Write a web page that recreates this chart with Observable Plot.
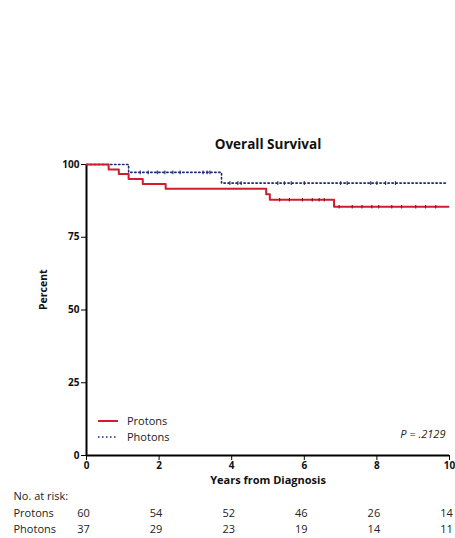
<!DOCTYPE html>
<html><head><meta charset="utf-8">
<script src="https://cdn.jsdelivr.net/npm/d3@7"></script>
<script src="https://cdn.jsdelivr.net/npm/@observablehq/plot@0.6"></script>
<style>
html,body{margin:0;padding:0;background:#fff;}
svg{font-family:"Open Sans",sans-serif;}
</style></head>
<body><div id="chart"></div>
<script>
// Kaplan–Meier steps (years, percent)
const protonTimes = [0, 0.61, 0.89, 1.16, 1.55, 2.18, 4.95, 5.05, 6.82, 9.97];
const protonSurv  = [100, 98.3, 96.7, 95.0, 93.3, 91.7, 89.8, 87.9, 85.5, 85.5];
const photonTimes = [0, 1.16, 3.72, 9.95];
const photonSurv  = [100, 97.3, 93.6, 93.6];
// censoring marks (years)
const protonCensor = [5.32, 5.59, 5.95, 6.22, 6.41, 6.55, 6.96, 7.32, 7.59, 7.86, 8.05, 8.41, 8.68, 9.07, 9.34, 9.62];
const photonCensor = [1.48, 1.70, 1.95, 2.16, 2.38, 2.58, 3.21, 3.32, 3.40, 3.95, 4.17, 4.26, 5.27, 5.45, 5.64, 6.0, 7.0, 7.18, 7.83, 8.0, 8.24, 8.51];
// numbers at risk
const riskYears = [0, 2, 4, 6, 8, 10];
const riskProtons = [60, 54, 52, 46, 26, 14];
const riskPhotons = [37, 29, 23, 19, 14, 11];
const xTicks = [0, 2, 4, 6, 8, 10];
const yTicks = [0, 25, 50, 75, 100];
const pValue = "P = .2129";

const red = "#d01c2c";
const navy = "#1e2a6e";

const protons = protonTimes.map((t, i) => ({t, s: protonSurv[i]}));
const photons = photonTimes.map((t, i) => ({t, s: photonSurv[i]}));
function survAt(times, surv, t) {
  let s = surv[0];
  for (let i = 0; i < times.length; i++) if (times[i] <= t) s = surv[i];
  return s;
}
const pc = protonCensor.map(t => ({t, s: survAt(protonTimes, protonSurv, t)}));
const hc = photonCensor.map(t => ({t, s: survAt(photonTimes, photonSurv, t)}));
const vtick = {draw(ctx, size) { const h = Math.sqrt(size) / 2; ctx.moveTo(0, -h); ctx.lineTo(0, h); }};
const riskP = riskYears.map((x, i) => ({x, v: riskProtons[i]}));
const riskH = riskYears.map((x, i) => ({x, v: riskPhotons[i]}));

function legend(index, scales, values, dims) {
  const g = d3.create("svg:g");
  const x0 = dims.marginLeft + 12, x1 = x0 + 20;
  const yb = dims.height - dims.marginBottom;
  const rows = [
    {label: "Protons", color: red, dash: null, y: yb - 34},
    {label: "Photons", color: navy, dash: "1.5,2.5", y: yb - 18}
  ];
  for (const r of rows) {
    g.append("line").attr("x1", x0).attr("x2", x1).attr("y1", r.y).attr("y2", r.y)
      .attr("stroke", r.color).attr("stroke-width", r.dash ? 1.6 : 2)
      .attr("stroke-dasharray", r.dash);
    g.append("text").attr("x", x1 + 9).attr("y", r.y).attr("dy", "0.35em")
      .attr("text-anchor", "start")
      .attr("font-size", 11).attr("fill", "#222").text(r.label);
  }
  return g.node();
}

const chart = Plot.plot({
  width: 455,
  height: 538,
  marginLeft: 86,
  marginRight: 6,
  marginTop: 164,
  marginBottom: 83,
  style: {fontFamily: "'Open Sans', sans-serif", background: "#fff", overflow: "visible"},
  x: {domain: [0, 10]},
  y: {domain: [0, 100]},
  marks: [
    Plot.axisX({ticks: xTicks, tickSize: 5, tickPadding: 1, fontSize: 10, fontWeight: "bold",
      label: null, tickFormat: d => d, fill: "#111"}),
    Plot.axisY({ticks: yTicks, tickSize: 5, tickPadding: 2, fontSize: 10, fontWeight: "bold",
      label: null, tickFormat: d => d, fill: "#111"}),
    Plot.ruleX([0], {stroke: "#000", strokeWidth: 2}),
    Plot.ruleY([0], {stroke: "#000", strokeWidth: 2}),
    Plot.line(photons, {x: "t", y: "s", curve: "step-after", stroke: navy, strokeWidth: 1.6, strokeDasharray: "1.5,2.5"}),
    Plot.line(protons, {x: "t", y: "s", curve: "step-after", stroke: red, strokeWidth: 2}),
    Plot.dot(hc, {x: "t", y: "s", symbol: vtick, r: 2, stroke: navy, strokeWidth: 1.1}),
    Plot.dot(pc, {x: "t", y: "s", symbol: vtick, r: 2, stroke: "#7a1a22", strokeWidth: 1.1}),
    legend,
    Plot.text(["Years from Diagnosis"], {frameAnchor: "bottom", dy: 28, text: d => d, fontSize: 11, fontWeight: "bold", fill: "#111"}),
    Plot.text(["Percent"], {frameAnchor: "left", dx: -43, text: d => d, fontSize: 10.5, fontWeight: "bold", fill: "#111", rotate: -90}),
    Plot.text([pValue], {frameAnchor: "bottom-right", dx: -4, dy: -18, text: d => d, fontSize: 11, fontStyle: "italic", fill: "#222", textAnchor: "end"}),
    Plot.text(["Overall Survival"], {frameAnchor: "top", dy: -25, text: d => d, fontSize: 13.5, fontWeight: "bold", fill: "#111"}),
    Plot.text(["No. at risk:"], {frameAnchor: "bottom-left", dx: -73, dy: 44, text: d => d, textAnchor: "start", fontSize: 11, fill: "#222"}),
    Plot.text(["Protons"], {frameAnchor: "bottom-left", dx: -73, dy: 61, text: d => d, textAnchor: "start", fontSize: 11, fill: "#222"}),
    Plot.text(["Photons"], {frameAnchor: "bottom-left", dx: -73, dy: 77, text: d => d, textAnchor: "start", fontSize: 11, fill: "#222"}),
    Plot.text(riskP, {x: "x", frameAnchor: "bottom", dy: 61, text: d => String(d.v), fontSize: 11, fill: "#222", dx: -3}),
    Plot.text(riskH, {x: "x", frameAnchor: "bottom", dy: 77, text: d => String(d.v), fontSize: 11, fill: "#222", dx: -3})
  ]
});
document.getElementById("chart").appendChild(chart);
</script></body></html>
